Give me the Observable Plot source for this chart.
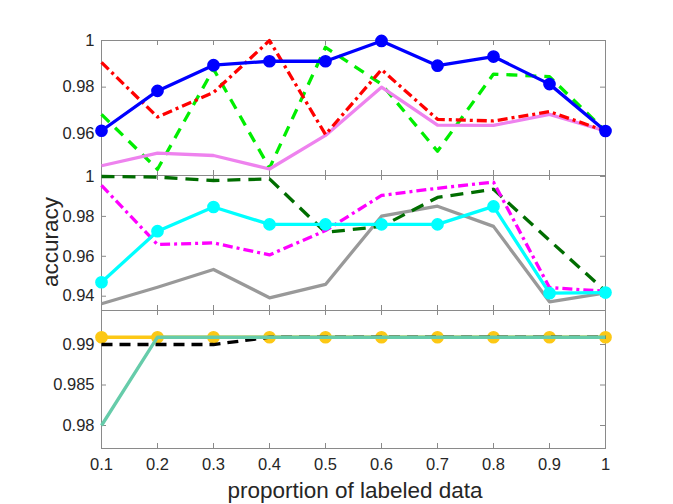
<!DOCTYPE html>
<html><head><meta charset="utf-8">
<script src="https://cdn.jsdelivr.net/npm/d3@7"></script>
<script src="https://cdn.jsdelivr.net/npm/@observablehq/plot@0.6"></script>
<style>
body{margin:0;background:#fff;}
#wrap{position:relative;width:673px;height:504px;background:#fff;font-family:"Liberation Sans",Arial,sans-serif;color:#262626;overflow:hidden;}
#wrap svg{position:absolute;left:0;overflow:visible;background:transparent;}
.lab{position:absolute;font-size:22.5px;line-height:22px;white-space:nowrap;color:#262626;}
</style></head><body>
<div id="wrap">
  <div class="lab" style="left:355px;top:491px;transform:translate(-50%,-50%);">proportion of labeled data</div>
  <div class="lab" style="left:50.7px;top:241.7px;transform:translate(-50%,-50%) rotate(-90deg);">accuracy</div>
</div>
<script>
// ---- data ----
const proportion = [0.1, 0.2, 0.3, 0.4, 0.5, 0.6, 0.7, 0.8, 0.9, 1];

// top panel
const topTicks = [0.96, 0.98, 1];
const topGreen  = [0.9683, 0.9448, 0.9878, 0.9453, 0.9971, 0.9813, 0.9525, 0.9856, 0.9845, 0.9612];
const topViolet = [0.9463, 0.9517, 0.9507, 0.9449, 0.9593, 0.9800, 0.9637, 0.9636, 0.9683, 0.9612];
const topRed    = [0.9906, 0.9672, 0.9777, 1.0000, 0.9597, 0.9875, 0.9662, 0.9655, 0.9695, 0.9612];
const topBlue   = [0.9613, 0.9784, 0.9894, 0.9911, 0.9911, 0.9998, 0.9892, 0.9931, 0.9813, 0.9612];

// middle panel
const midTicks = [0.94, 0.96, 0.98, 1];
const midGray      = [0.9362, 0.9445, 0.9534, 0.9392, 0.9459, 0.9801, 0.9851, 0.9750, 0.9372, 0.9417];
const midDarkGreen = [1.0000, 0.9997, 0.9980, 0.9988, 0.9720, 0.9750, 0.9895, 0.9936, 0.9680, 0.9425];
const midMagenta   = [0.9955, 0.9659, 0.9667, 0.9607, 0.9729, 0.9905, 0.9941, 0.9972, 0.9443, 0.9425];
const midCyan      = [0.9470, 0.9726, 0.9847, 0.9760, 0.9760, 0.9760, 0.9760, 0.9850, 0.9415, 0.9418];

// bottom panel
const botTicks = [0.98, 0.985, 0.99];
const botYellow = [0.9909, 0.9909, 0.9909, 0.9909, 0.9909, 0.9909, 0.9909, 0.9909, 0.9909, 0.9909];
const botBlack  = [0.9900, 0.9900, 0.9900, 0.9909, 0.9909, 0.9909, 0.9909, 0.9909, 0.9909, 0.9909];
const botTeal   = [0.9800, 0.9909, 0.9909, 0.9909, 0.9909, 0.9909, 0.9909, 0.9909, 0.9909, 0.9909];

// ---- drawing ----
const W = 673, ML = 101, MR = 68;
const AX = "#8a8a8a", TXT = "#262626";
const FONT = "'Liberation Sans', Arial, sans-serif";

function panel({top, height, mt, mb, domain, yTicks, series, xLabels}) {
  const plotH = height - mt - mb, plotW = W - ML - MR;
  const marks = [
    Plot.frame({stroke: AX, strokeWidth: 1}),
    Plot.tickX(proportion, {x: d => d, stroke: AX, insetTop: plotH - 5}),
    Plot.tickX(proportion, {x: d => d, stroke: AX, insetBottom: plotH - 5}),
    Plot.tickY(yTicks, {y: d => d, stroke: AX, insetRight: plotW - 5}),
    Plot.tickY(yTicks, {y: d => d, stroke: AX, insetLeft: plotW - 5}),
    Plot.axisY(yTicks, {anchor: "left", tickSize: 0, tickPadding: 7, tickFormat: d => String(d),
      fontSize: 16.5, color: TXT, label: null})
  ];
  if (xLabels) marks.push(Plot.axisX(proportion, {anchor: "bottom", tickSize: 0, tickPadding: 10,
      tickFormat: d => String(d), fontSize: 16.5, color: TXT, label: null}));
  for (const s of series) {
    const data = proportion.map((x, i) => ({x, y: s.values[i]}));
    marks.push(Plot.line(data, {x: "x", y: "y", stroke: s.color, strokeWidth: 3.3,
      strokeDasharray: s.dash || null, strokeLinecap: "butt", strokeLinejoin: "round"}));
    if (s.marker) marks.push(Plot.dot(data, {x: "x", y: "y", r: 5.6, fill: s.color, stroke: s.color, strokeWidth: 1.5}));
  }
  const svg = Plot.plot({
    width: W, height, marginLeft: ML, marginRight: MR, marginTop: mt, marginBottom: mb,
    x: {domain: [0.1, 1], ...(xLabels ? {} : {axis: null})},
    y: {domain},
    style: {fontFamily: FONT, background: "transparent", overflow: "visible"},
    marks
  });
  svg.style.top = top + "px";
  document.getElementById("wrap").appendChild(svg);
}

panel({top: 0, height: 175, mt: 40, mb: 0, domain: [0.94212, 1], yTicks: topTicks, series: [
  {values: topGreen, color: "#00ee00", dash: "11,8"},
  {values: topViolet, color: "#ee82ee"},
  {values: topRed, color: "#ff0000", dash: "10,4,3,4"},
  {values: topBlue, color: "#0000ff", marker: true}
]});
panel({top: 175, height: 135, mt: 0, mb: 0, domain: [0.93283, 1.0005], yTicks: midTicks, series: [
  {values: midGray, color: "#999999"},
  {values: midDarkGreen, color: "#006d00", dash: "13,8"},
  {values: midMagenta, color: "#ff00ff", dash: "10,4,3,4"},
  {values: midCyan, color: "#00ffff", marker: true}
]});
panel({top: 310, height: 190, mt: 0, mb: 52, domain: [0.97716, 0.9942], yTicks: botTicks, xLabels: true, series: [
  {values: botYellow, color: "#fcc815", marker: true},
  {values: botBlack, color: "#000000", dash: "11,7"},
  {values: botTeal, color: "#66ccaa"}
]});
</script>
</body></html>
